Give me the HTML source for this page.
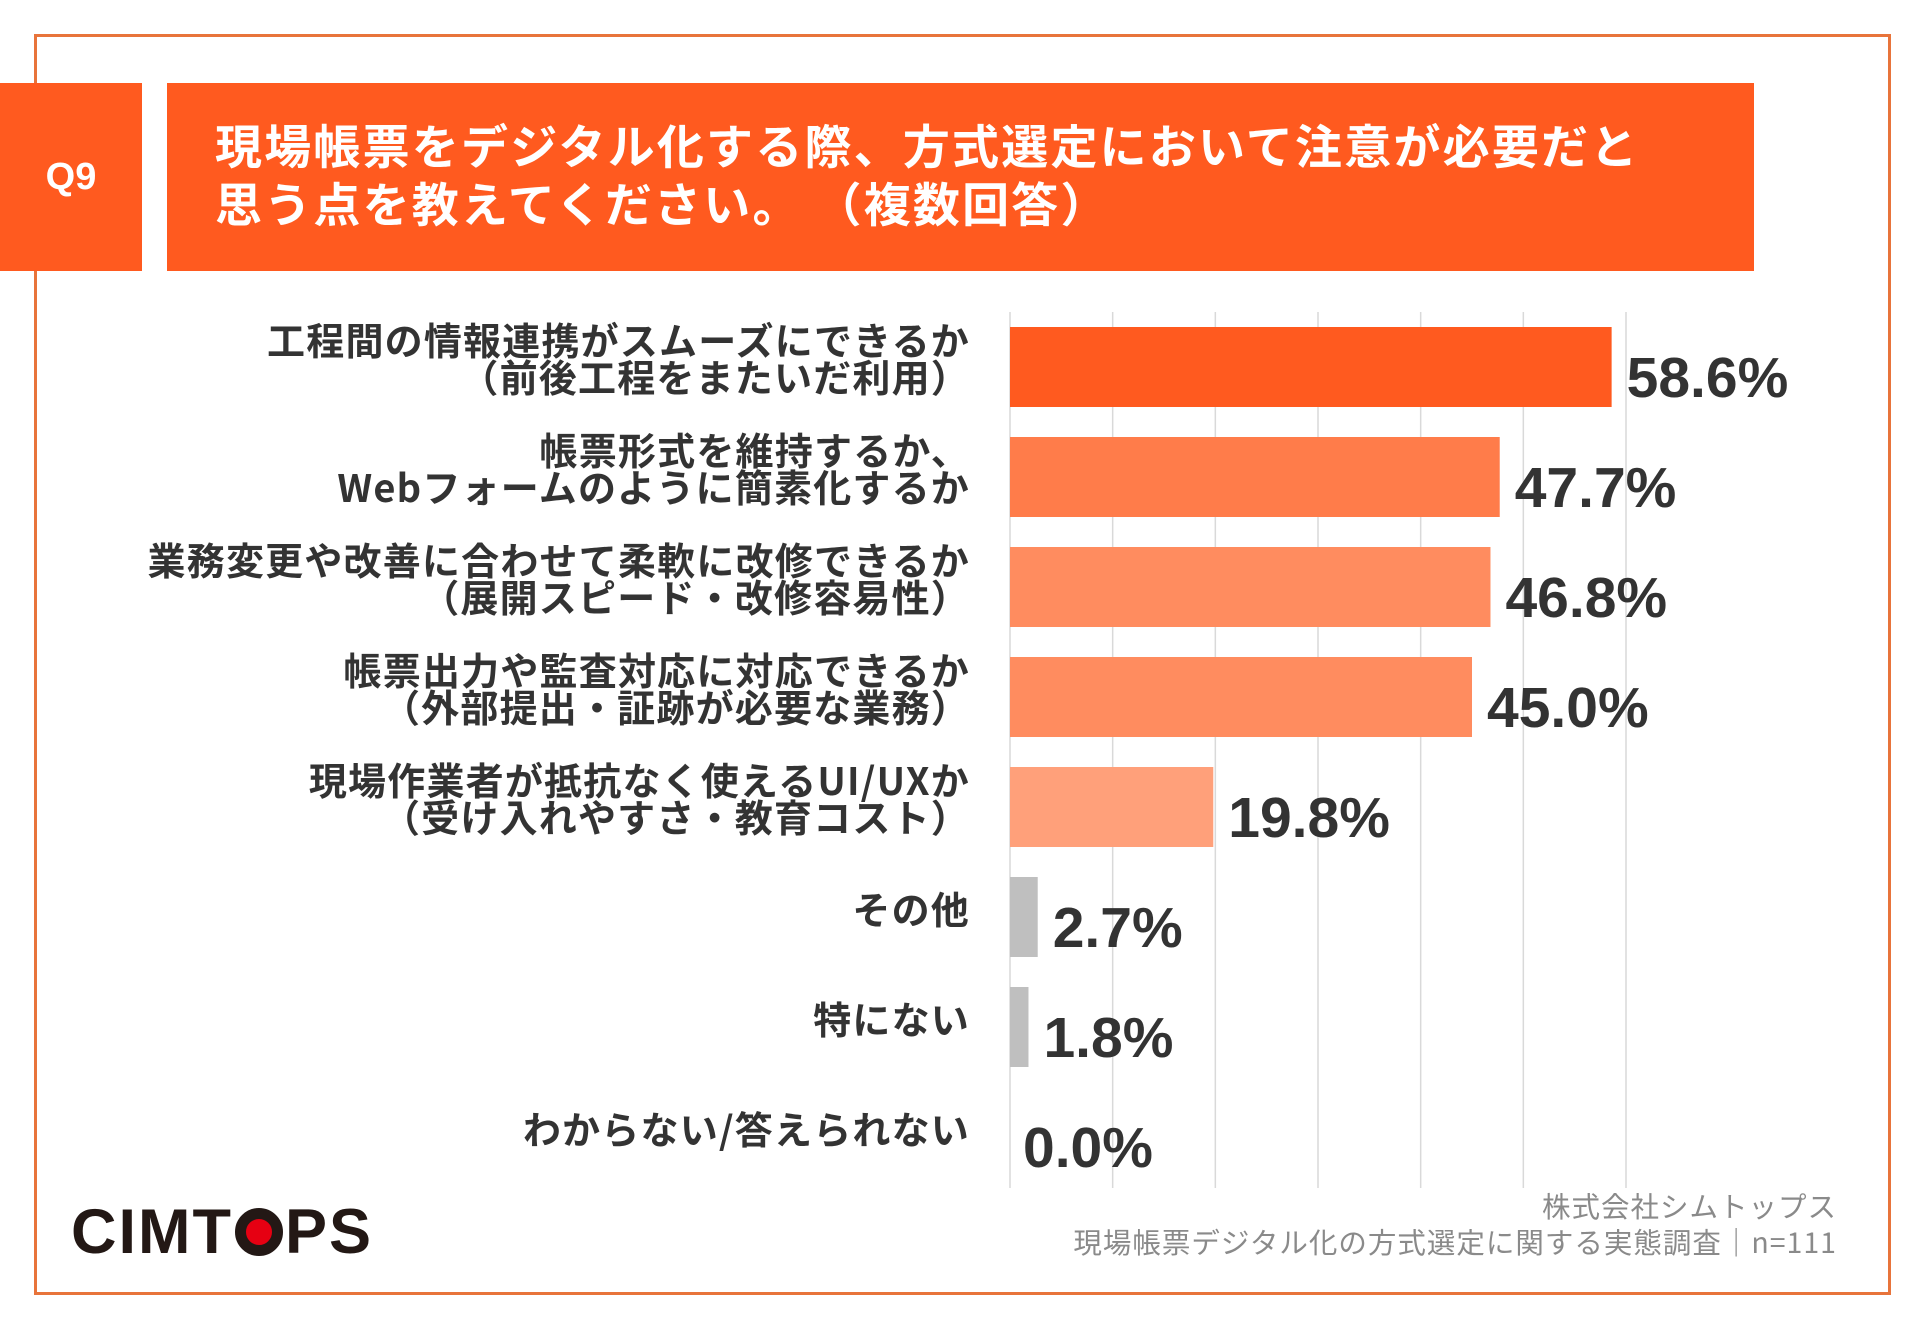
<!DOCTYPE html>
<html><head><meta charset="utf-8"><style>
*{margin:0;padding:0;box-sizing:border-box}
body{width:1920px;height:1329px;background:#fff;position:relative;overflow:hidden;font-family:"Liberation Sans","Noto Sans CJK JP",sans-serif}
.abs{position:absolute}
#frame{left:34px;top:34px;width:1857px;height:1261px;border:3px solid #E8743B}
#q9{left:0;top:83px;width:142px;height:188px;background:#FF5A1F;color:#fff;font-weight:bold;font-size:38px;display:flex;align-items:center;justify-content:center}
#title{left:167px;top:83px;width:1587px;height:188px;background:#FF5A1F;color:#fff;font-weight:bold;font-size:47px;line-height:58px;padding:32px 0 0 48px;letter-spacing:2.2px;font-family:"Noto Sans CJK JP",sans-serif;white-space:nowrap}
.cat{position:absolute;right:950px;text-align:right;font-weight:bold;font-size:38px;line-height:37px;color:#333;font-family:"Noto Sans CJK JP",sans-serif;white-space:nowrap;letter-spacing:1.2px}
#footer{right:83px;top:1188px;text-align:right;color:#8a8a8a;font-size:28.5px;line-height:36px;font-family:"Noto Sans CJK JP",sans-serif;letter-spacing:1px}
#logo{left:71px;top:1196px;font-weight:bold;font-size:63px;color:#231815;letter-spacing:2px;line-height:72px}
#logo .o{display:inline-block;width:48px;height:48px;border-radius:50%;border:11px solid #231815;background:#E60012;vertical-align:-3px;margin:0 2px}
</style></head><body>
<div id="frame" class="abs"></div>
<div id="q9" class="abs">Q9</div>
<div id="title" class="abs">現場帳票をデジタル化する際、方式選定において注意が必要だと<br>思う点を教えてください。 （複数回答）</div>
<svg id="chart" class="abs" style="left:0;top:0" width="1920" height="1329"></svg>
<div id="cats"></div>
<div id="footer" class="abs">株式会社シムトップス<br>現場帳票デジタル化の方式選定に関する実態調査｜n=111</div>
<div id="logo" class="abs">CIMT<span class="o"></span>PS</div>
<script>
const categories=[["工程間の情報連携がスムーズにできるか","（前後工程をまたいだ利用）"],["帳票形式を維持するか、","Webフォームのように簡素化するか"],["業務変更や改善に合わせて柔軟に改修できるか","（展開スピード・改修容易性）"],["帳票出力や監査対応に対応できるか","（外部提出・証跡が必要な業務）"],["現場作業者が抵抗なく使えるUI/UXか","（受け入れやすさ・教育コスト）"],["その他"],["特にない"],["わからない/答えられない"]];
const values=[58.6,47.7,46.8,45.0,19.8,2.7,1.8,0.0];
const valueLabels=["58.6%","47.7%","46.8%","45.0%","19.8%","2.7%","1.8%","0.0%"];
const gridTicks=[0,10,20,30,40,50,60];
const colors=["#FF5A1F","#FF7C4A","#FF8C5F","#FF8C5F","#FFA07A","#BFBFBF","#BFBFBF","#BFBFBF"];
const NS="http://www.w3.org/2000/svg";
const svg=document.getElementById('chart');
const x0=1010,x1=1626,xMax=60;
const x=v=>x0+(x1-x0)*v/xMax;
const rowC=i=>367+i*110;
const barH=80;
gridTicks.forEach(t=>{
 const l=document.createElementNS(NS,'line');
 
 
 l.setAttribute('x1',x(t));l.setAttribute('x2',x(t));l.setAttribute('y1',312);l.setAttribute('y2',1188);
 l.setAttribute('stroke','#d9d9d9');l.setAttribute('stroke-width','1.5');
 svg.appendChild(l);
});
const cats=document.getElementById('cats');
values.forEach((v,i)=>{
 const r=document.createElementNS(NS,'rect');
 
 
 r.setAttribute('x',x0);r.setAttribute('y',rowC(i)-barH/2);
 r.setAttribute('width',Math.max(0,x(v)-x0));r.setAttribute('height',barH);
 r.setAttribute('fill',colors[i]);
 svg.appendChild(r);
 const t=document.createElementNS(NS,'text');
 
 
 t.setAttribute('x',x(v)+(v>0?15:13));t.setAttribute('y',rowC(i)+30);
 t.setAttribute('font-size','57');t.setAttribute('font-weight','bold');t.setAttribute('fill','#333');
 t.setAttribute('font-family','"Liberation Sans",sans-serif');
 t.textContent=valueLabels[i];
 svg.appendChild(t);
 const d=document.createElement('div');
 
 
 d.className='cat';
 const lines=categories[i];
 d.innerHTML=lines.join('<br>');
 d.style.top=(rowC(i)-10-lines.length*37/2)+'px';
 cats.appendChild(d);
});
</script>
</body></html>
